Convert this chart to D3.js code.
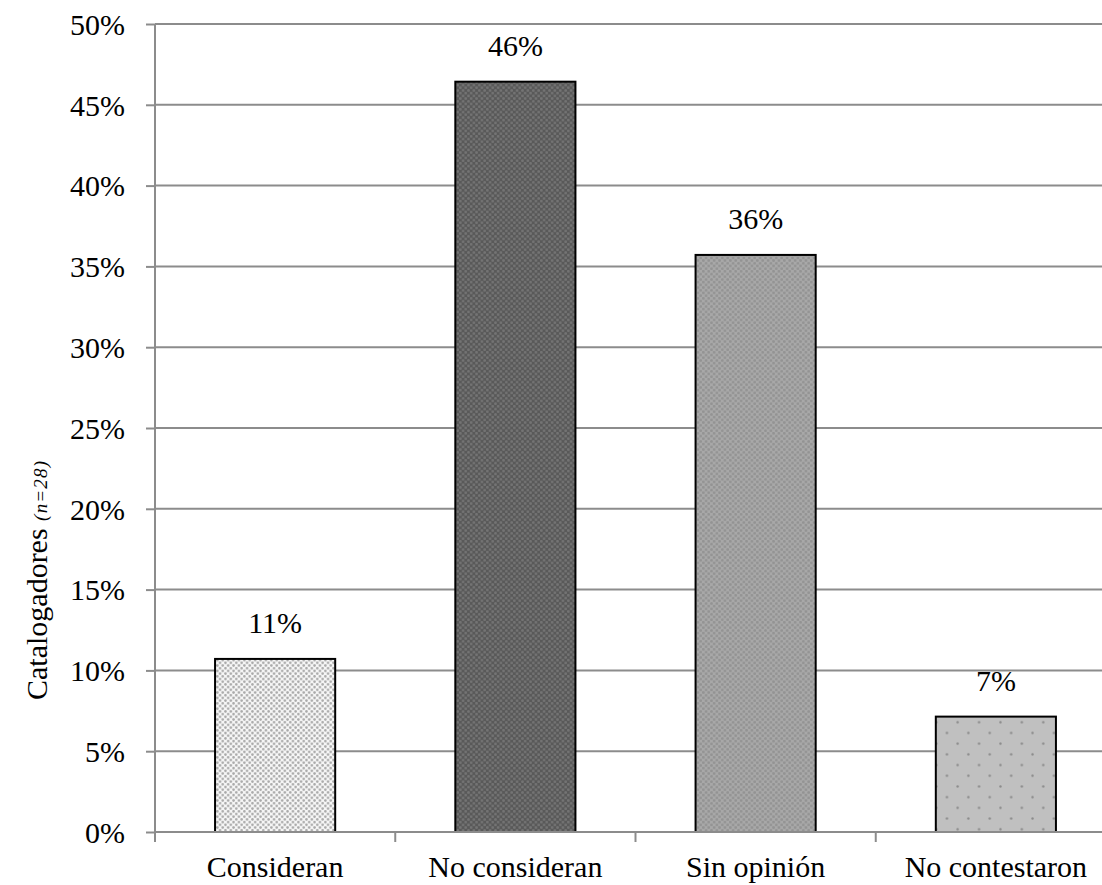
<!DOCTYPE html>
<html><head><meta charset="utf-8">
<script src="https://cdn.jsdelivr.net/npm/d3@7"></script>
<style>body{margin:0;background:#fff}svg{display:block}</style>
</head><body>
<script>
const categories = ["Consideran", "No consideran", "Sin opinión", "No contestaron"];
const values = [0.1071, 0.4643, 0.3571, 0.0714];
const labels = ["11%", "46%", "36%", "7%"];
const yTicks = [0, 0.05, 0.10, 0.15, 0.20, 0.25, 0.30, 0.35, 0.40, 0.45, 0.50];

const W = 1102, H = 885;
const svg = d3.select("body").append("svg").attr("width", W).attr("height", H);
const font = "'Liberation Serif','Times New Roman',serif";

// patterns
const defs = svg.append("defs");
function dotPattern(id, bg, dot, size, r, offset) {
  const p = defs.append("pattern").attr("id", id).attr("patternUnits", "userSpaceOnUse")
    .attr("width", size).attr("height", size);
  p.append("rect").attr("width", size).attr("height", size).attr("fill", bg);
  p.append("circle").attr("cx", size / 4).attr("cy", size / 4).attr("r", r).attr("fill", dot);
  if (offset) p.append("circle").attr("cx", size * 3 / 4).attr("cy", size * 3 / 4).attr("r", r).attr("fill", dot);
}
dotPattern("p0", "#f6f6f6", "#a8a8a8", 5.4, 1.3, true);
dotPattern("p1", "#595959", "#747474", 5.4, 1.4, true);
dotPattern("p2", "#a8a8a8", "#939393", 5.4, 1.4, true);
dotPattern("p3", "#c0c0c0", "#8a8a8a", 21.4, 1.2, true);
const fills = ["url(#p0)", "url(#p1)", "url(#p2)", "url(#p3)"];

const x0 = 155, xEnd = 1116, yTop = 24, yBot = 832;
const x = d3.scaleBand().domain(categories).range([x0, xEnd]).paddingInner(0.5).paddingOuter(0.25);
const y = d3.scaleLinear().domain([0, 0.5]).range([yBot, yTop]);

// gridlines
svg.append("g").selectAll("line").data(yTicks.slice(1)).join("line")
  .attr("x1", x0).attr("x2", W).attr("y1", d => y(d)).attr("y2", d => y(d))
  .attr("stroke", "#8c8c8c").attr("stroke-width", 2);

// y axis
const yAxis = svg.append("g").attr("transform", `translate(${x0},0)`)
  .call(d3.axisLeft(y).tickValues(yTicks).tickFormat(d3.format(".0%")).tickSize(9).tickPadding(21));
yAxis.select(".domain").attr("stroke", "#8c8c8c").attr("stroke-width", 2).attr("d", `M0,${yTop}V${yBot}`);
yAxis.selectAll(".tick line").attr("stroke", "#8c8c8c").attr("stroke-width", 2);
yAxis.selectAll("text").attr("font-family", font).attr("font-size", 30).attr("fill", "#000").attr("dy", "0.34em");

// bars
svg.append("g").selectAll("rect").data(categories).join("rect")
  .attr("x", d => x(d)).attr("width", x.bandwidth())
  .attr("y", (d, i) => y(values[i])).attr("height", (d, i) => yBot - y(values[i]))
  .attr("fill", (d, i) => fills[i]).attr("stroke", "#000").attr("stroke-width", 2);

// x axis
svg.append("line").attr("x1", x0).attr("x2", W).attr("y1", yBot).attr("y2", yBot)
  .attr("stroke", "#8c8c8c").attr("stroke-width", 2);
const step = x.step();
const tickXs = d3.range(categories.length + 1).map(i => x0 + i * step);
svg.append("g").selectAll("line").data(tickXs).join("line")
  .attr("x1", d => d).attr("x2", d => d).attr("y1", yBot).attr("y2", yBot + 10)
  .attr("stroke", "#8c8c8c").attr("stroke-width", 2);
svg.append("g").selectAll("text").data(categories).join("text")
  .attr("x", d => x(d) + x.bandwidth() / 2).attr("y", 877)
  .attr("text-anchor", "middle").attr("font-family", font).attr("font-size", 30).attr("fill", "#000")
  .text(d => d);

// data labels
svg.append("g").selectAll("text").data(categories).join("text")
  .attr("x", d => x(d) + x.bandwidth() / 2).attr("y", (d, i) => y(values[i]) - 26)
  .attr("text-anchor", "middle").attr("font-family", font).attr("font-size", 30).attr("fill", "#000")
  .text((d, i) => labels[i]);

// y title
const t = svg.append("text").attr("transform", `translate(47,700) rotate(-90)`)
  .attr("text-anchor", "start").attr("font-family", font).attr("fill", "#000");
t.append("tspan").attr("font-size", 30).text("Catalogadores ");
t.append("tspan").attr("font-size", 19).attr("font-style", "italic").attr("letter-spacing", 1.2).text("(n=28)");
</script>
</body></html>
